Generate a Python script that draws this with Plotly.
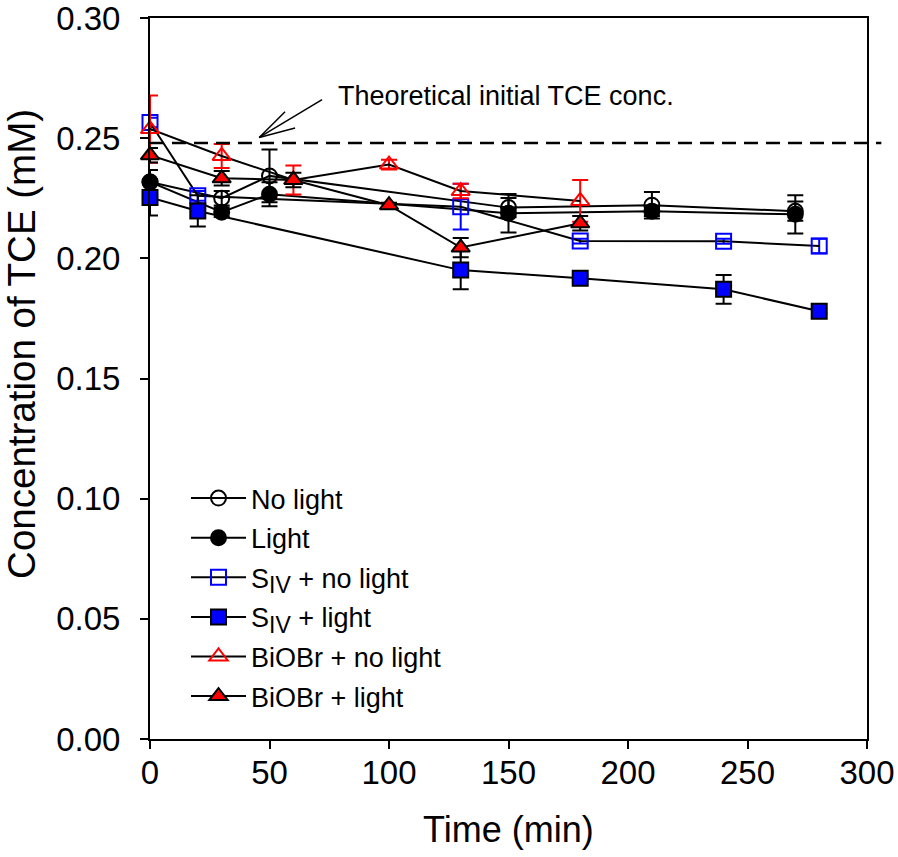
import plotly.graph_objects as go

# ---- data ----
t_nolight = [0, 30, 50, 150, 210, 270]
c_nolight = [0.2318, 0.2250, 0.2343, 0.2211, 0.2221, 0.2196]
e_nolight = [0.005, 0.003, 0.011, 0.004, 0.0055, 0.004]

t_light = [0, 30, 50, 150, 210, 270]
c_light = [0.2318, 0.2192, 0.2267, 0.2188, 0.2196, 0.2183]
e_light = [0.005, 0.002, 0.005, 0.008, 0.002, 0.008]

t_siv_nolight = [0, 20, 130, 180, 240, 280]
c_siv_nolight = [0.2565, 0.2260, 0.2215, 0.2072, 0.2071, 0.2051]
e_siv_nolight = [0.002, 0.002, 0.0095, 0.001, 0.001, 0.003]

t_siv_light = [0, 20, 130, 180, 240, 280]
c_siv_light = [0.2253, 0.2197, 0.1951, 0.1917, 0.1871, 0.1780]
e_siv_light = [0.0075, 0.0065, 0.008, 0.001, 0.006, 0.001]

t_bio_nolight = [0, 30, 60, 100, 130, 180]
c_bio_nolight = [0.2538, 0.2426, 0.2326, 0.2390, 0.2280, 0.2239]
e_bio_nolight = [0.014, 0.005, 0.006, 0.002, 0.003, 0.0087]

t_bio_light = [0, 30, 60, 100, 130, 180]
c_bio_light = [0.2429, 0.2333, 0.2326, 0.2221, 0.2045, 0.2146]
e_bio_light = [0.003, 0.003, 0.003, 0.001, 0.004, 0.003]

theoretical_conc = 0.248

x_ticks = [0, 50, 100, 150, 200, 250, 300]
y_ticks = [0.00, 0.05, 0.10, 0.15, 0.20, 0.25, 0.30]

FONT = "Liberation Sans, Arial, sans-serif"
BLUE = "#0000FF"
RED = "#FF0000"

SIV = "S<sub><span style='font-size:23px'>IV</span></sub>"

series = [
    ("No light", t_nolight, c_nolight, e_nolight, "circle-open", "black", "black", "black"),
    ("Light", t_light, c_light, e_light, "circle", "black", "black", "black"),
    (SIV + " + no light", t_siv_nolight, c_siv_nolight, e_siv_nolight, "square-open", BLUE, BLUE, BLUE),
    (SIV + " + light", t_siv_light, c_siv_light, e_siv_light, "square", BLUE, "black", "black"),
    ("BiOBr + no light", t_bio_nolight, c_bio_nolight, e_bio_nolight, "triangle-up-open", RED, RED, RED),
    ("BiOBr + light", t_bio_light, c_bio_light, e_bio_light, "triangle-up", RED, "black", "black"),
]

fig = go.Figure()
for i, (name, xs, ys, es, sym, fill, outline, ecol) in enumerate(series):
    open_sym = sym.endswith("open")
    fig.add_trace(go.Scatter(
        x=xs, y=ys, name=name, mode="lines+markers", legendgroup="g%d" % i,
        line=dict(color="black", width=2),
        marker=dict(symbol=sym, size=15 if "triangle" not in sym else 16,
                    color=fill,
                    line=dict(color=fill if open_sym else outline, width=2)),
        error_y=dict(type="data", array=es, visible=True, color=ecol,
                     thickness=2, width=8),
        cliponaxis=False,
    ))

# theoretical initial concentration reference line
fig.add_shape(type="line", xref="paper", yref="y", x0=0, x1=1.02,
              y0=theoretical_conc, y1=theoretical_conc,
              line=dict(color="black", width=2.5, dash="14px,8px"))

# annotation arrow (open V head drawn with lines)
fig.add_shape(type="line", xref="x", yref="y", x0=45.7, y0=0.2503, x1=72.0, y1=0.2660,
              line=dict(color="black", width=1.5))
fig.add_shape(type="line", xref="x", yref="y", x0=45.7, y0=0.2503, x1=56.5, y1=0.2610,
              line=dict(color="black", width=1.5))
fig.add_shape(type="line", xref="x", yref="y", x0=45.7, y0=0.2503, x1=60.7, y1=0.2542,
              line=dict(color="black", width=1.5))
fig.add_annotation(x=78, y=0.2675, xref="x", yref="y", text="Theoretical initial TCE conc.",
                   showarrow=False, xanchor="left", yanchor="middle",
                   font=dict(family=FONT, size=27, color="black"))

# axis titles
fig.add_annotation(x=0.50, y=-0.126, xref="paper", yref="paper", text="Time (min)",
                   showarrow=False, xanchor="center", yanchor="middle",
                   font=dict(family=FONT, size=36, color="black"))
fig.add_annotation(x=-0.1785, y=0.548, xref="paper", yref="paper",
                   text="Concentration of TCE (mM)", textangle=-90,
                   showarrow=False, xanchor="center", yanchor="middle",
                   font=dict(family=FONT, size=38.5, color="black"))

fig.update_layout(
    width=898, height=857,
    margin=dict(l=150, r=31, t=18, b=118, autoexpand=False),
    paper_bgcolor="white", plot_bgcolor="white",
    font=dict(family=FONT, color="black"),
    showlegend=True,
    legend=dict(x=(186 - 150) / 717, y=0.3675, xanchor="left", yanchor="top",
                bgcolor="rgba(0,0,0,0)", font=dict(family=FONT, size=27),
                tracegroupgap=1.5, itemwidth=55),
    xaxis=dict(range=[0, 300], tickvals=x_ticks, ticks="outside", ticklen=8, tickwidth=2,
               tickcolor="black", showline=True, linecolor="black", linewidth=2,
               mirror=True, showgrid=False, zeroline=False, automargin=False,
               tickfont=dict(family=FONT, size=33), ticklabelstandoff=-5,
               ticklabeloverflow="allow"),
    yaxis=dict(range=[0, 0.30], tickvals=y_ticks, tickformat=".2f", ticks="outside",
               ticklen=8, tickwidth=2, tickcolor="black", showline=True, linecolor="black",
               linewidth=2, mirror=True, showgrid=False, zeroline=False, automargin=False,
               tickfont=dict(family=FONT, size=33), ticklabelstandoff=13,
               ticklabeloverflow="allow"),
)

fig.write_html("out.html", config={"displayModeBar": False},
               post_script="document.body.style.margin='0px';")
